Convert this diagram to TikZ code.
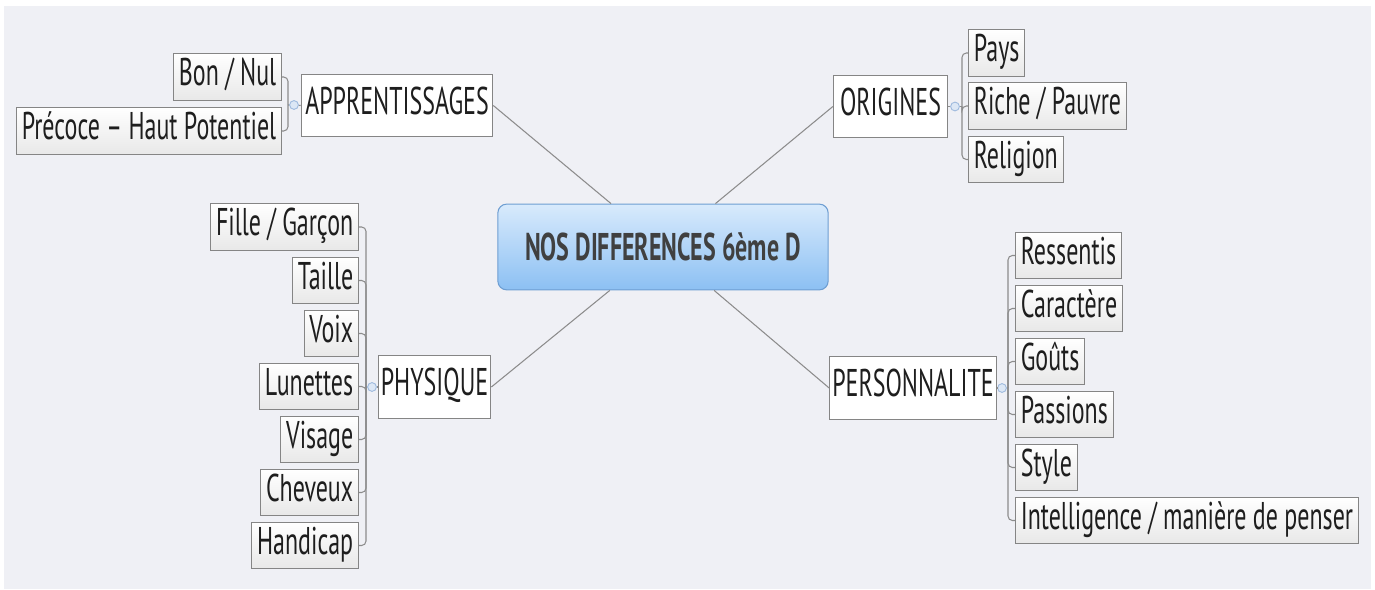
\documentclass[tikz,border=0pt]{standalone}
\usepackage{fontspec}
\setmainfont[FakeStretch=0.62]{PT Sans}
\definecolor{bgpanel}{HTML}{EFF0F5}
\definecolor{edgegray}{HTML}{858585}
\definecolor{linkgray}{HTML}{8C8C8C}
\definecolor{hubtop}{HTML}{D8EAFC}
\definecolor{hubbottom}{HTML}{8CC0F3}
\definecolor{hubedge}{HTML}{6E9ED2}
\definecolor{knobedge}{HTML}{9DB9DD}
\definecolor{knobfill}{HTML}{DCE7F5}
\definecolor{inkgray}{HTML}{1E1E1E}
\begin{document}
\begin{tikzpicture}[x=0.02cm,y=-0.02cm,
  font=\fontsize{22}{24}\selectfont,
  hub/.style={draw=hubedge,line width=0.6pt,rounded corners=5pt,top color=hubtop,bottom color=hubbottom,
    minimum width=188pt,minimum height=48.8pt,font=\fontsize{22}{24}\selectfont\bfseries,text=inkgray!85},
  topic/.style={draw=edgegray,line width=0.6pt,fill=white,minimum height=35.5pt,text height=15pt,text depth=5pt,
    inner xsep=1.5pt,text=inkgray},
  leaf/.style={draw=edgegray,line width=0.6pt,top color=white,bottom color=black!9,minimum height=26.6pt,
    text height=15pt,text depth=5pt,inner xsep=3pt,inner ysep=3pt,text=inkgray},
  knob/.style={circle,draw=knobedge,fill=knobfill,line width=0.5pt,minimum size=5pt,inner sep=0pt},
  link/.style={draw=linkgray,line width=0.6pt},
  hook/.style={link,rounded corners=2.5pt}]
\useasboundingbox[fill=white] (0,0) rectangle (1375,590);
\fill[bgpanel] (4,6) rectangle (1371,589);

\node[hub] (nos) at (663,247) {NOS DIFFERENCES 6ème D};

\node[topic,minimum width=109pt] (app) at (397,105.5) {APPRENTISSAGES};
\node[topic,minimum width=65pt] (ori) at (890.5,106.5) {ORIGINES};
\node[topic,minimum width=64pt] (phy) at (434.5,387) {PHYSIQUE};
\node[topic,minimum width=93pt] (per) at (913,388) {PERSONNALITE};

\draw[link] (app.east) -- (nos);
\draw[link] (ori.west) -- (nos);
\draw[link] (phy.east) -- (nos);
\draw[link] (per.west) -- (nos);

\node[leaf,anchor=east] (bon) at (282,77) {Bon / Nul};
\node[leaf,anchor=east] (precoce) at (282,131) {Précoce – Haut Potentiel};

\node[leaf,anchor=west] (pays) at (968,53) {Pays};
\node[leaf,anchor=west] (riche) at (968,106) {Riche / Pauvre};
\node[leaf,anchor=west] (religion) at (968,159.5) {Religion};

\node[leaf,anchor=east] (fille) at (359,227) {Fille / Garçon};
\node[leaf,anchor=east] (taille) at (359,280.5) {Taille};
\node[leaf,anchor=east] (voix) at (359,333.5) {Voix};
\node[leaf,anchor=east] (lunettes) at (359,386.5) {Lunettes};
\node[leaf,anchor=east] (visage) at (359,439.5) {Visage};
\node[leaf,anchor=east] (cheveux) at (359,492.5) {Cheveux};
\node[leaf,anchor=east] (handicap) at (359,545.5) {Handicap};

\node[leaf,anchor=west] (ressentis) at (1015,255.5) {Ressentis};
\node[leaf,anchor=west] (caractere) at (1015,308.5) {Caractère};
\node[leaf,anchor=west] (gouts) at (1015,361.5) {Goûts};
\node[leaf,anchor=west] (passions) at (1015,414.5) {Passions};
\node[leaf,anchor=west] (style) at (1015,467.5) {Style};
\node[leaf,anchor=west] (intel) at (1015,520.5) {Intelligence / manière de penser};

% brackets
\coordinate (appb) at (288,105);
\coordinate (orib) at (962,106.5);
\coordinate (phyb) at (366,387);
\coordinate (perb) at (1008,388);
\node[knob] (appk) at (294,105) {};
\node[knob] (orik) at (955,106.5) {};
\node[knob] (phyk) at (372,387) {};
\node[knob] (perk) at (1002,388) {};
\draw[link] (app.west) -- (appk) (appk) -- (appb);
\draw[link] (ori.east) -- (orik) (orik) -- (orib);
\draw[link] (phy.west) -- (phyk) (phyk) -- (phyb);
\draw[link] (per.east) -- (perk) (perk) -- (perb);

\draw[hook] (appb) |- (bon.east);
\draw[hook] (appb) |- (precoce.east);
\draw[hook] (orib) |- (pays.west);
\draw[hook] (orib) |- (riche.west);
\draw[hook] (orib) |- (religion.west);
\draw[hook] (phyb) |- (fille.east);
\draw[hook] (phyb) |- (taille.east);
\draw[hook] (phyb) |- (voix.east);
\draw[hook] (phyb) |- (lunettes.east);
\draw[hook] (phyb) |- (visage.east);
\draw[hook] (phyb) |- (cheveux.east);
\draw[hook] (phyb) |- (handicap.east);
\draw[hook] (perb) |- (ressentis.west);
\draw[hook] (perb) |- (caractere.west);
\draw[hook] (perb) |- (gouts.west);
\draw[hook] (perb) |- (passions.west);
\draw[hook] (perb) |- (style.west);
\draw[hook] (perb) |- (intel.west);
\end{tikzpicture}
\end{document}
